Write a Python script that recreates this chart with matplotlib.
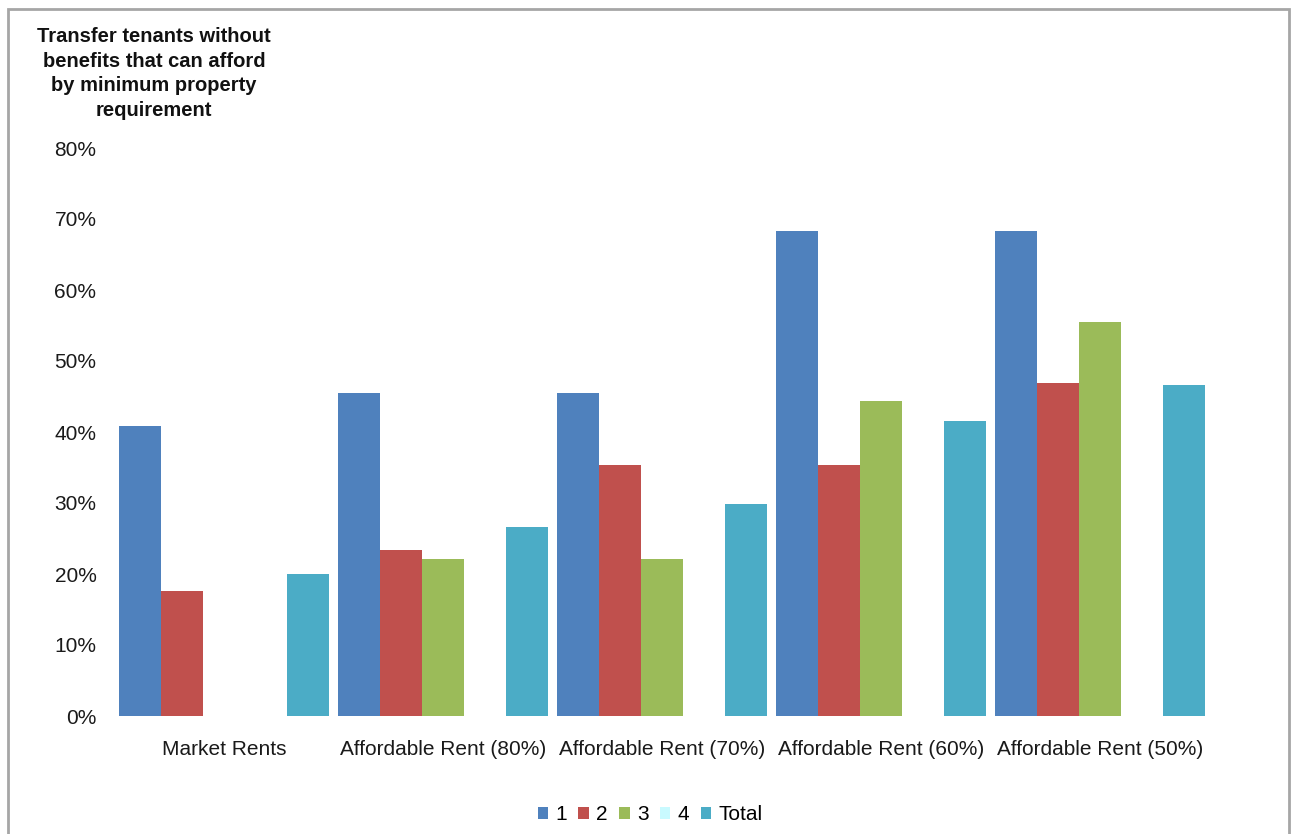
import matplotlib.pyplot as plt
import numpy as np
from matplotlib.patches import Rectangle

plt.rcParams["font.family"] = ["Liberation Sans", "DejaVu Sans"]

CATEGORIES = [
    "Market Rents",
    "Affordable Rent (80%)",
    "Affordable Rent (70%)",
    "Affordable Rent (60%)",
    "Affordable Rent (50%)",
]
SERIES = ["1", "2", "3", "4", "Total"]
VALUES_1 = [40.9, 45.5, 45.5, 68.3, 68.3]
VALUES_2 = [17.6, 23.4, 35.3, 35.3, 46.9]
VALUES_3 = [0.0, 22.1, 22.1, 44.4, 55.5]
VALUES_4 = [0.0, 0.0, 0.0, 0.0, 0.0]
VALUES_TOTAL = [20.0, 26.6, 29.9, 41.5, 46.6]
YTICKS = [0, 10, 20, 30, 40, 50, 60, 70, 80]
TITLE = "Transfer tenants without\nbenefits that can afford\nby minimum property\nrequirement"

COLORS = ["#4F81BD", "#C0504D", "#9BBB59", "#C9FAFF", "#4BACC6"]

fig = plt.figure(figsize=(12.95, 8.34), dpi=100)
ax = fig.add_axes([114.5 / 1295, 1 - 716 / 834, 1095 / 1295, 568 / 834])

x = np.arange(len(CATEGORIES))
width = 42 / 219
all_values = [VALUES_1, VALUES_2, VALUES_3, VALUES_4, VALUES_TOTAL]
for i, (name, vals, color) in enumerate(zip(SERIES, all_values, COLORS)):
    ax.bar(x + (i - 2) * width, np.array(vals) / 100, width, color=color,
           label=name, linewidth=0)

ax.set_xlim(-0.5, len(CATEGORIES) - 0.5)
ax.set_ylim(0, 0.8)
ax.set_yticks([t / 100 for t in YTICKS])
ax.set_yticklabels([f"{t}%" for t in YTICKS])
ax.set_xticks(x)
ax.set_xticklabels(CATEGORIES)
ax.tick_params(axis="both", length=0, labelsize=15, colors="#1a1a1a")
ax.tick_params(axis="y", pad=13)
ax.tick_params(axis="x", pad=17)
for spine in ax.spines.values():
    spine.set_visible(False)

fig.text(154 / 1295, 1 - 27 / 834, TITLE, ha="center", va="top",
         fontsize=14.5, fontweight="bold", linespacing=1.38, color="#111111")

fig.legend(loc="center", bbox_to_anchor=(0.502, 0.023), ncol=5, frameon=False,
           fontsize=15, handlelength=0.5, handleheight=0.5, handletextpad=0.35,
           columnspacing=0.55)

fig.patches.append(Rectangle((8 / 1295, -0.05), (1289 - 8) / 1295, 1.05 - 9 / 834,
                             transform=fig.transFigure, fill=False,
                             edgecolor="#a6a6a6", linewidth=2))

fig.savefig("out.png", dpi=100)
